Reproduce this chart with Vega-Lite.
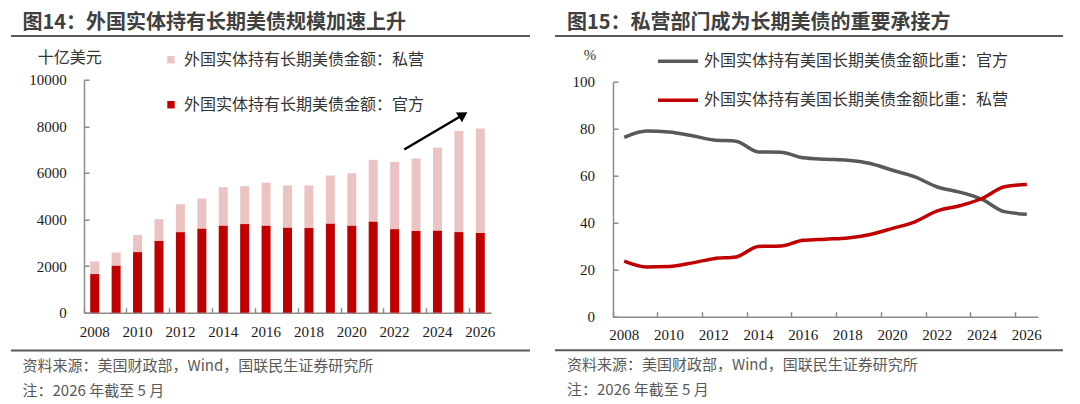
{
  "$schema": "https://vega.github.io/schema/vega-lite/v6.json",
  "background": "#ffffff",
  "padding": {"left": 11, "top": 13, "right": 4, "bottom": 0},
  "config": {
    "font": "Noto Sans CJK SC",
    "view": {"stroke": null},
    "axis": {
      "grid": false,
      "domainColor": "#8c8c8c",
      "domainWidth": 1.5,
      "tickColor": "#8c8c8c",
      "tickWidth": 1.5,
      "tickSize": -5,
      "labelFont": "Liberation Serif",
      "labelFontSize": 15,
      "labelColor": "#1a1a1a",
      "titleFont": "Noto Sans CJK SC",
      "titleFontWeight": "normal",
      "titleFontSize": 16,
      "titleColor": "#333333"
    },
    "legend": {
      "labelFont": "Noto Sans CJK SC",
      "labelFontSize": 16,
      "labelColor": "#333333",
      "labelLimit": 400,
      "padding": 0
    }
  },
  "datasets": {
    "bars": [
      {"year": 2008, "type": "外国实体持有长期美债金额：官方", "value": 1659},
      {"year": 2008, "type": "外国实体持有长期美债金额：私营", "value": 544},
      {"year": 2009, "type": "外国实体持有长期美债金额：官方", "value": 2031},
      {"year": 2009, "type": "外国实体持有长期美债金额：私营", "value": 558},
      {"year": 2010, "type": "外国实体持有长期美债金额：官方", "value": 2602},
      {"year": 2010, "type": "外国实体持有长期美债金额：私营", "value": 728},
      {"year": 2011, "type": "外国实体持有长期美债金额：官方", "value": 3086},
      {"year": 2011, "type": "外国实体持有长期美债金额：私营", "value": 930},
      {"year": 2012, "type": "外国实体持有长期美债金额：官方", "value": 3459},
      {"year": 2012, "type": "外国实体持有长期美债金额：私营", "value": 1200},
      {"year": 2013, "type": "外国实体持有长期美债金额：官方", "value": 3616},
      {"year": 2013, "type": "外国实体持有长期美债金额：私营", "value": 1287},
      {"year": 2014, "type": "外国实体持有长期美债金额：官方", "value": 3745},
      {"year": 2014, "type": "外国实体持有长期美债金额：私营", "value": 1643},
      {"year": 2015, "type": "外国实体持有长期美债金额：官方", "value": 3802},
      {"year": 2015, "type": "外国实体持有长期美债金额：私营", "value": 1629},
      {"year": 2016, "type": "外国实体持有长期美债金额：官方", "value": 3740},
      {"year": 2016, "type": "外国实体持有长期美债金额：私营", "value": 1840},
      {"year": 2017, "type": "外国实体持有长期美债金额：官方", "value": 3660},
      {"year": 2017, "type": "外国实体持有长期美债金额：私营", "value": 1800},
      {"year": 2018, "type": "外国实体持有长期美债金额：官方", "value": 3645},
      {"year": 2018, "type": "外国实体持有长期美债金额：私营", "value": 1815},
      {"year": 2019, "type": "外国实体持有长期美债金额：官方", "value": 3831},
      {"year": 2019, "type": "外国实体持有长期美债金额：私营", "value": 2058},
      {"year": 2020, "type": "外国实体持有长期美债金额：官方", "value": 3745},
      {"year": 2020, "type": "外国实体持有长期美债金额：私营", "value": 2243},
      {"year": 2021, "type": "外国实体持有长期美债金额：官方", "value": 3917},
      {"year": 2021, "type": "外国实体持有长期美债金额：私营", "value": 2642},
      {"year": 2022, "type": "外国实体持有长期美债金额：官方", "value": 3588},
      {"year": 2022, "type": "外国实体持有长期美债金额：私营", "value": 2885},
      {"year": 2023, "type": "外国实体持有长期美债金额：官方", "value": 3516},
      {"year": 2023, "type": "外国实体持有长期美债金额：私营", "value": 3101},
      {"year": 2024, "type": "外国实体持有长期美债金额：官方", "value": 3530},
      {"year": 2024, "type": "外国实体持有长期美债金额：私营", "value": 3559},
      {"year": 2025, "type": "外国实体持有长期美债金额：官方", "value": 3459},
      {"year": 2025, "type": "外国实体持有长期美债金额：私营", "value": 4342},
      {"year": 2026, "type": "外国实体持有长期美债金额：官方", "value": 3430},
      {"year": 2026, "type": "外国实体持有长期美债金额：私营", "value": 4473}
    ],
    "arrow": [
      {"x": 2022.45, "y": 7004, "x2": 2025.2, "y2": 8496}
    ],
    "shares": [
      {"year": 2008, "series": "外国实体持有美国长期美债金额比重：官方", "value": 76.3},
      {"year": 2009, "series": "外国实体持有美国长期美债金额比重：官方", "value": 79.0},
      {"year": 2010, "series": "外国实体持有美国长期美债金额比重：官方", "value": 78.6},
      {"year": 2011, "series": "外国实体持有美国长期美债金额比重：官方", "value": 77.1},
      {"year": 2012, "series": "外国实体持有美国长期美债金额比重：官方", "value": 75.2},
      {"year": 2013, "series": "外国实体持有美国长期美债金额比重：官方", "value": 74.7},
      {"year": 2014, "series": "外国实体持有美国长期美债金额比重：官方", "value": 70.1},
      {"year": 2015, "series": "外国实体持有美国长期美债金额比重：官方", "value": 70.0},
      {"year": 2016, "series": "外国实体持有美国长期美债金额比重：官方", "value": 67.6},
      {"year": 2017, "series": "外国实体持有美国长期美债金额比重：官方", "value": 67.0},
      {"year": 2018, "series": "外国实体持有美国长期美债金额比重：官方", "value": 66.6},
      {"year": 2019, "series": "外国实体持有美国长期美债金额比重：官方", "value": 65.2},
      {"year": 2020, "series": "外国实体持有美国长期美债金额比重：官方", "value": 62.3},
      {"year": 2021, "series": "外国实体持有美国长期美债金额比重：官方", "value": 59.5},
      {"year": 2022, "series": "外国实体持有美国长期美债金额比重：官方", "value": 55.2},
      {"year": 2023, "series": "外国实体持有美国长期美债金额比重：官方", "value": 53.0},
      {"year": 2024, "series": "外国实体持有美国长期美债金额比重：官方", "value": 49.9},
      {"year": 2025, "series": "外国实体持有美国长期美债金额比重：官方", "value": 44.7},
      {"year": 2026, "series": "外国实体持有美国长期美债金额比重：官方", "value": 43.6},
      {"year": 2008, "series": "外国实体持有美国长期美债金额比重：私营", "value": 23.7},
      {"year": 2009, "series": "外国实体持有美国长期美债金额比重：私营", "value": 21.2},
      {"year": 2010, "series": "外国实体持有美国长期美债金额比重：私营", "value": 21.4},
      {"year": 2011, "series": "外国实体持有美国长期美债金额比重：私营", "value": 22.8},
      {"year": 2012, "series": "外国实体持有美国长期美债金额比重：私营", "value": 24.7},
      {"year": 2013, "series": "外国实体持有美国长期美债金额比重：私营", "value": 25.4},
      {"year": 2014, "series": "外国实体持有美国长期美债金额比重：私营", "value": 29.9},
      {"year": 2015, "series": "外国实体持有美国长期美债金额比重：私营", "value": 30.1},
      {"year": 2016, "series": "外国实体持有美国长期美债金额比重：私营", "value": 32.5},
      {"year": 2017, "series": "外国实体持有美国长期美债金额比重：私营", "value": 33.0},
      {"year": 2018, "series": "外国实体持有美国长期美债金额比重：私营", "value": 33.5},
      {"year": 2019, "series": "外国实体持有美国长期美债金额比重：私营", "value": 35.0},
      {"year": 2020, "series": "外国实体持有美国长期美债金额比重：私营", "value": 37.6},
      {"year": 2021, "series": "外国实体持有美国长期美债金额比重：私营", "value": 40.4},
      {"year": 2022, "series": "外国实体持有美国长期美债金额比重：私营", "value": 45.0},
      {"year": 2023, "series": "外国实体持有美国长期美债金额比重：私营", "value": 47.2},
      {"year": 2024, "series": "外国实体持有美国长期美债金额比重：私营", "value": 50.3},
      {"year": 2025, "series": "外国实体持有美国长期美债金额比重：私营", "value": 55.3},
      {"year": 2026, "series": "外国实体持有美国长期美债金额比重：私营", "value": 56.3}
    ]
  },
  "spacing": 25,
  "resolve": {
    "scale": {"fill": "independent", "stroke": "independent"},
    "legend": {"fill": "independent", "stroke": "independent"}
  },
  "hconcat": [
    {
      "spacing": 11.7,
      "resolve": {
        "scale": {"fill": "independent", "stroke": "independent"},
        "legend": {"fill": "independent", "stroke": "independent"}
      },
      "vconcat": [
        {
          "width": 519,
          "height": 2,
          "view": {"fill": "#595959", "stroke": null},
          "title": {
            "text": "图14：外国实体持有长期美债规模加速上升",
            "anchor": "start",
            "dx": 11.5,
            "offset": 2,
            "fontSize": 20,
            "fontWeight": "bold",
            "color": "#404040"
          },
          "data": {"values": []},
          "mark": "point"
        },
        {
          "spacing": 9.8,
          "resolve": {
            "scale": {"fill": "independent", "stroke": "independent"},
            "legend": {"fill": "independent", "stroke": "independent"}
          },
          "vconcat": [
            {
              "spacing": 0,
              "resolve": {
                "scale": {"fill": "independent", "stroke": "independent"},
                "legend": {"fill": "independent", "stroke": "independent"}
              },
              "hconcat": [
                {"width": 16.5, "height": 2, "data": {"values": []}, "mark": "point"},
                {
                  "width": 407,
                  "height": 233,
                  "resolve": {"scale": {"x": "independent"}, "axis": {"x": "independent"}},
                  "layer": [
                    {
                      "data": {"name": "bars"},
                      "mark": {"type": "bar", "width": {"band": 0.42}},
                      "encoding": {
                        "x": {
                          "field": "year",
                          "type": "ordinal",
                          "scale": {"type": "band", "paddingInner": 0, "paddingOuter": 0},
                          "axis": {
                            "title": null,
                            "values": [2008, 2010, 2012, 2014, 2016, 2018, 2020, 2022, 2024, 2026],
                            "bandPosition": 0,
                            "labelAngle": 0,
                            "labelPadding": 16.5
                          }
                        },
                        "y": {
                          "field": "value",
                          "type": "quantitative",
                          "stack": "zero",
                          "scale": {"domain": [0, 10000]},
                          "axis": {
                            "title": "十亿美元",
                            "values": [0, 2000, 4000, 6000, 8000, 10000],
                            "format": "d",
                            "titleAngle": 0,
                            "titleAlign": "center",
                            "titleBaseline": "middle",
                            "titleX": -14.7,
                            "titleY": -22.6,
                            "labelPadding": 22.7
                          }
                        },
                        "fill": {
                          "field": "type",
                          "type": "nominal",
                          "scale": {
                            "domain": ["外国实体持有长期美债金额：私营", "外国实体持有长期美债金额：官方"],
                            "range": ["#ECC3C3", "#C00000"]
                          },
                          "legend": {
                            "title": null,
                            "orient": "none",
                            "legendX": 79,
                            "legendY": -28,
                            "direction": "vertical",
                            "symbolType": "square",
                            "symbolSize": 55,
                            "symbolStrokeWidth": 0,
                            "rowPadding": 29,
                            "labelOffset": 5
                          }
                        },
                        "order": {"field": "type"}
                      }
                    },
                    {
                      "data": {"name": "arrow"},
                      "mark": {"type": "rule", "color": "#000000", "strokeWidth": 2.5},
                      "encoding": {
                        "x": {"field": "x", "type": "quantitative", "scale": {"domain": [2007.5, 2026.5], "nice": false, "zero": false}, "axis": null},
                        "x2": {"field": "x2"},
                        "y": {"field": "y", "type": "quantitative", "title": "十亿美元", "scale": {"domain": [0, 10000]}},
                        "y2": {"field": "y2"}
                      }
                    },
                    {
                      "data": {"name": "arrow"},
                      "mark": {"type": "point", "shape": "triangle-right", "filled": true, "color": "#000000", "opacity": 1, "size": 130, "angle": 328},
                      "encoding": {
                        "x": {"field": "x2", "type": "quantitative", "scale": {"domain": [2007.5, 2026.5], "nice": false, "zero": false}, "axis": null},
                        "y": {"field": "y2", "type": "quantitative", "title": "十亿美元", "scale": {"domain": [0, 10000]}}
                      }
                    }
                  ]
                }
              ]
            },
            {
              "width": 519,
              "height": 2,
              "view": {"fill": "#595959", "stroke": null},
              "title": {
                "text": ["资料来源：美国财政部，Wind，国联民生证券研究所", "注：2026 年截至 5 月"],
                "orient": "bottom",
                "anchor": "start",
                "dx": 11.5,
                "offset": 7,
                "lineHeight": 25,
                "fontSize": 15,
                "fontWeight": "normal",
                "color": "#595959"
              },
              "data": {"values": []},
              "mark": "point"
            }
          ]
        }
      ]
    },
    {
      "spacing": 1.7,
      "resolve": {
        "scale": {"fill": "independent", "stroke": "independent"},
        "legend": {"fill": "independent", "stroke": "independent"}
      },
      "vconcat": [
        {
          "width": 508,
          "height": 2,
          "view": {"fill": "#595959", "stroke": null},
          "title": {
            "text": "图15：私营部门成为长期美债的重要承接方",
            "anchor": "start",
            "dx": 12,
            "offset": 2,
            "fontSize": 20,
            "fontWeight": "bold",
            "color": "#404040"
          },
          "data": {"values": []},
          "mark": "point"
        },
        {
          "spacing": 6.5,
          "resolve": {
            "scale": {"fill": "independent", "stroke": "independent"},
            "legend": {"fill": "independent", "stroke": "independent"}
          },
          "vconcat": [
            {
              "spacing": 0,
              "resolve": {
                "scale": {"fill": "independent", "stroke": "independent"},
                "legend": {"fill": "independent", "stroke": "independent"}
              },
              "hconcat": [
                {"width": 16.3, "height": 2, "data": {"values": []}, "mark": "point"},
                {
                  "width": 425,
                  "height": 235,
                  "data": {"name": "shares"},
                  "mark": {"type": "line", "interpolate": "monotone", "strokeWidth": 3.5},
                  "encoding": {
                    "x": {
                      "field": "year",
                      "type": "ordinal",
                      "bandPosition": 0.5,
                      "scale": {"type": "band", "paddingInner": 0, "paddingOuter": 0},
                      "axis": {
                        "title": null,
                        "values": [2008, 2010, 2012, 2014, 2016, 2018, 2020, 2022, 2024, 2026],
                        "bandPosition": 0,
                        "labelAngle": 0,
                        "labelPadding": 15.8
                      }
                    },
                    "y": {
                      "field": "value",
                      "type": "quantitative",
                      "scale": {"domain": [0, 100]},
                      "axis": {
                        "title": "%",
                        "values": [0, 20, 40, 60, 80, 100],
                        "titleFont": "Liberation Serif",
                        "titleFontSize": 15,
                        "titleAngle": 0,
                        "titleAlign": "center",
                        "titleBaseline": "middle",
                        "titleX": -23.4,
                        "titleY": -26.7,
                        "labelPadding": 23.4
                      }
                    },
                    "stroke": {
                      "field": "series",
                      "type": "nominal",
                      "scale": {
                        "domain": ["外国实体持有美国长期美债金额比重：官方", "外国实体持有美国长期美债金额比重：私营"],
                        "range": ["#595959", "#C00000"]
                      },
                      "legend": {
                        "title": null,
                        "orient": "none",
                        "legendX": 43,
                        "legendY": -42.4,
                        "direction": "vertical",
                        "symbolType": "stroke",
                        "symbolSize": 1600,
                        "symbolStrokeWidth": 3.5,
                        "rowPadding": 9,
                        "labelOffset": 4
                      }
                    }
                  }
                }
              ]
            },
            {
              "width": 508,
              "height": 2,
              "view": {"fill": "#595959", "stroke": null},
              "title": {
                "text": ["资料来源：美国财政部，Wind，国联民生证券研究所", "注：2026 年截至 5 月"],
                "orient": "bottom",
                "anchor": "start",
                "dx": 12,
                "offset": 7,
                "lineHeight": 25,
                "fontSize": 15,
                "fontWeight": "normal",
                "color": "#595959"
              },
              "data": {"values": []},
              "mark": "point"
            }
          ]
        }
      ]
    }
  ]
}
